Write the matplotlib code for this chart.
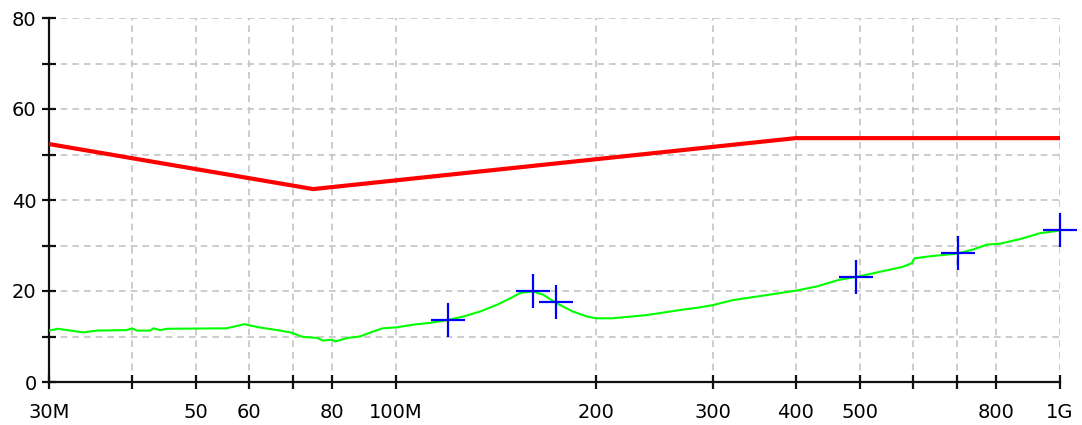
import matplotlib
matplotlib.use("Agg")
from matplotlib import pyplot as plt
from matplotlib.ticker import FixedLocator, FixedFormatter, NullLocator

# limit line (MHz, dBuV/m)
limit_freq = [30, 75, 400, 1000]
limit_level = [52.3, 42.4, 53.6, 53.6]

# measured trace
trace_freq = [30, 30.95, 31.94, 33.81, 35.42, 39.26, 40.0, 40.7, 42.6, 43.1,
              44.1, 45.2, 55.5, 59.1, 62.2, 66.2, 69.3, 72.4, 76.0, 77.6,
              80.1, 80.9, 84.6, 88.2, 92.3, 95.5, 100, 106.1, 112.5, 119.4,
              126.3, 133.9, 142.0, 148.6, 153.9, 160.7, 166.4, 174.5, 184.5,
              193.7, 200.3, 211.7, 238.2, 267.3, 286.5, 300, 321.5, 361.6,
              401, 430, 466, 494, 535, 579, 598, 604, 643, 699, 739, 776,
              812, 870, 933, 1000]
trace_level = [11.3, 11.7, 11.4, 10.9, 11.3, 11.4, 11.8, 11.3, 11.3, 11.8,
               11.4, 11.7, 11.8, 12.7, 12.0, 11.4, 10.9, 9.9, 9.7, 9.1,
               9.3, 8.9, 9.7, 10.0, 11.1, 11.8, 12.0, 12.6, 13.0, 13.6,
               14.4, 15.5, 17.0, 18.4, 19.6, 19.9, 19.2, 17.3, 15.5,
               14.4, 14.0, 14.0, 14.7, 15.8, 16.4, 16.9, 18.0, 19.1,
               20.1, 21.0, 22.5, 23.1, 24.2, 25.3, 26.1, 27.2, 27.7, 28.2, 29.1, 30.2,
               30.4, 31.4, 32.7, 33.3]

# peak markers
peak_freq = [119.7, 160.8, 174.1, 492.9, 701.8, 1000]
peak_level = [13.6, 20.1, 17.5, 23.0, 28.3, 33.5]

x_ticks = [30, 40, 50, 60, 70, 80, 100, 200, 300, 400, 500, 600, 700, 800, 1000]
x_labels = ["30M", "", "50", "60", "", "80", "100M", "200", "300", "400",
            "500", "", "", "800", "1G"]
y_ticks = [0, 10, 20, 30, 40, 50, 60, 70, 80]
y_labels = ["0", "", "20", "", "40", "", "60", "", "80"]

fig = plt.figure(figsize=(10.82, 4.25), dpi=100)
ax = fig.add_axes([49 / 1082, 1 - 382 / 425, 1011 / 1082, 364 / 425])

ax.plot(limit_freq, limit_level, color="#ff0000", lw=3, zorder=3)
ax.plot(trace_freq, trace_level, color="#00ff00", lw=1.5, zorder=3)
ax.plot(peak_freq, peak_level, ls="none", marker="+", ms=24, mew=1.6,
        color="#0000ff", zorder=4, clip_on=False)

ax.set_xscale("log")
ax.set_xlim(30, 1000)
ax.set_ylim(0, 80)
ax.xaxis.set_major_locator(FixedLocator(x_ticks))
ax.xaxis.set_major_formatter(FixedFormatter(x_labels))
ax.xaxis.set_minor_locator(NullLocator())
ax.yaxis.set_major_locator(FixedLocator(y_ticks))
ax.yaxis.set_major_formatter(FixedFormatter(y_labels))

ax.grid(True, color="#c4c4c4", ls=(0, (4, 3)), lw=1.2, zorder=0)
ax.set_axisbelow(True)
for s in ["top", "right"]:
    ax.spines[s].set_visible(False)
for s in ["left", "bottom"]:
    ax.spines[s].set_linewidth(1.6)
    ax.spines[s].set_color("#101010")

ax.tick_params(axis="both", direction="inout", length=10, width=1.6,
               color="#101010", labelsize=14)
ax.tick_params(axis="x", pad=10)
ax.tick_params(axis="y", pad=4)

fig.savefig("out.png", dpi=100)
